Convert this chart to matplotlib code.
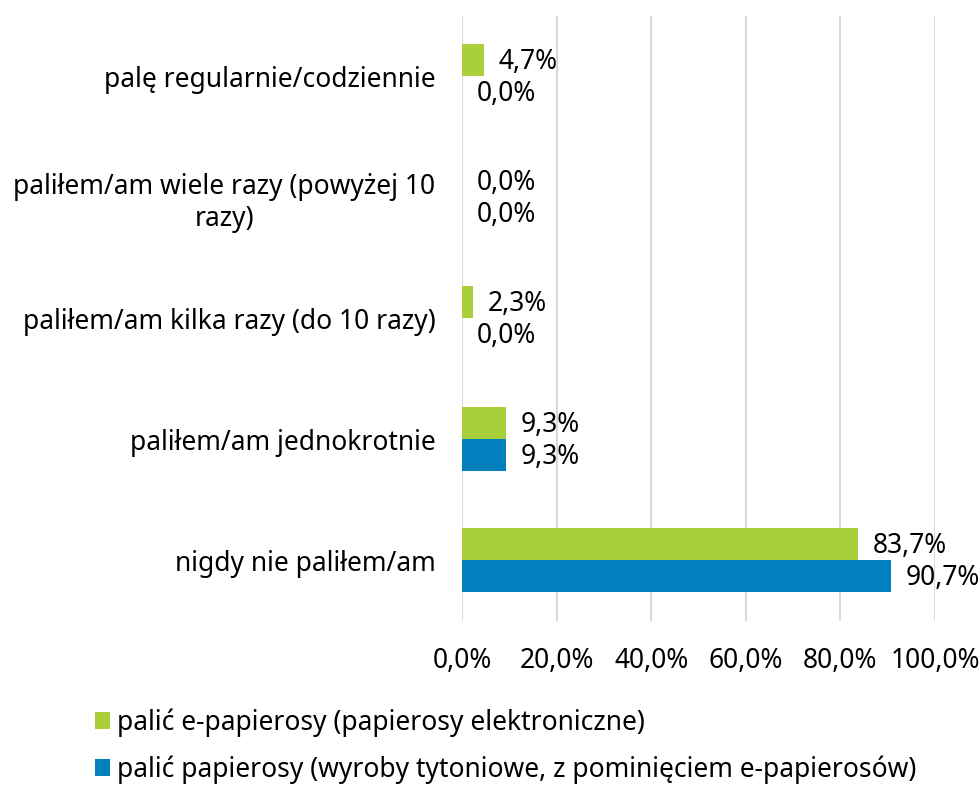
import matplotlib.pyplot as plt
import numpy as np
from matplotlib.ticker import FuncFormatter

categories = ["palę regularnie/codziennie",
              "paliłem/am wiele razy (powyżej 10\nrazy)",
              "paliłem/am kilka razy (do 10 razy)",
              "paliłem/am jednokrotnie",
              "nigdy nie paliłem/am"]
e_cig = [4.7, 0.0, 2.3, 9.3, 83.7]
cig = [0.0, 0.0, 0.0, 9.3, 90.7]
series_names = ["palić e-papierosy (papierosy elektroniczne)",
                "palić papierosy (wyroby tytoniowe, z pominięciem e-papierosów)"]
xticks = [0, 20, 40, 60, 80, 100]

green = "#A9D03B"
blue = "#0080BC"

plt.rcParams['font.family'] = ['Noto Sans', 'DejaVu Sans']
fs = 19

fig = plt.figure(figsize=(9.8, 7.89), dpi=100)
# axes area in pixels: x 462..935, y 15.5..620.5
ax = fig.add_axes([462/980, 1 - 620.5/789, 473/980, 605/789])

y = np.arange(len(categories))
h = 0.264
ax.barh(y - h/2, e_cig, height=h, color=green, label=series_names[0])
ax.barh(y + h/2, cig, height=h, color=blue, label=series_names[1])

def fmt(v):
    return ("%.1f%%" % v).replace(".", ",")

# value labels, slightly below bar centre like the original
for i in range(len(categories)):
    ax.annotate(fmt(e_cig[i]), (e_cig[i], y[i] - h/2), xytext=(10.5, -1.5),
                textcoords="offset points", va="center", ha="left", fontsize=fs)
    ax.annotate(fmt(cig[i]), (cig[i], y[i] + h/2), xytext=(10.5, -1.5),
                textcoords="offset points", va="center", ha="left", fontsize=fs)

ax.set_xlim(0, 100)
ax.set_ylim(len(categories) - 0.5, -0.5)
ax.set_xticks(xticks)
ax.xaxis.set_major_formatter(FuncFormatter(lambda v, p: fmt(v)))
ax.set_yticks(y)
ax.set_yticklabels(categories, multialignment="center")
ax.tick_params(axis="both", length=0, labelsize=fs)
ax.tick_params(axis="x", pad=19)
ax.tick_params(axis="y", pad=19)
ax.grid(axis="x", color="#D9D9D9", linewidth=1.5)
ax.set_axisbelow(True)
for s in ax.spines.values():
    s.set_visible(False)

fig.legend(loc="upper left", bbox_to_anchor=(84/980, 1 - 698/789), frameon=False,
           fontsize=fs, handlelength=0.6, handleheight=0.6, handletextpad=0.25,
           labelspacing=0.7, borderaxespad=0)

fig.savefig("out.png", dpi=100)
